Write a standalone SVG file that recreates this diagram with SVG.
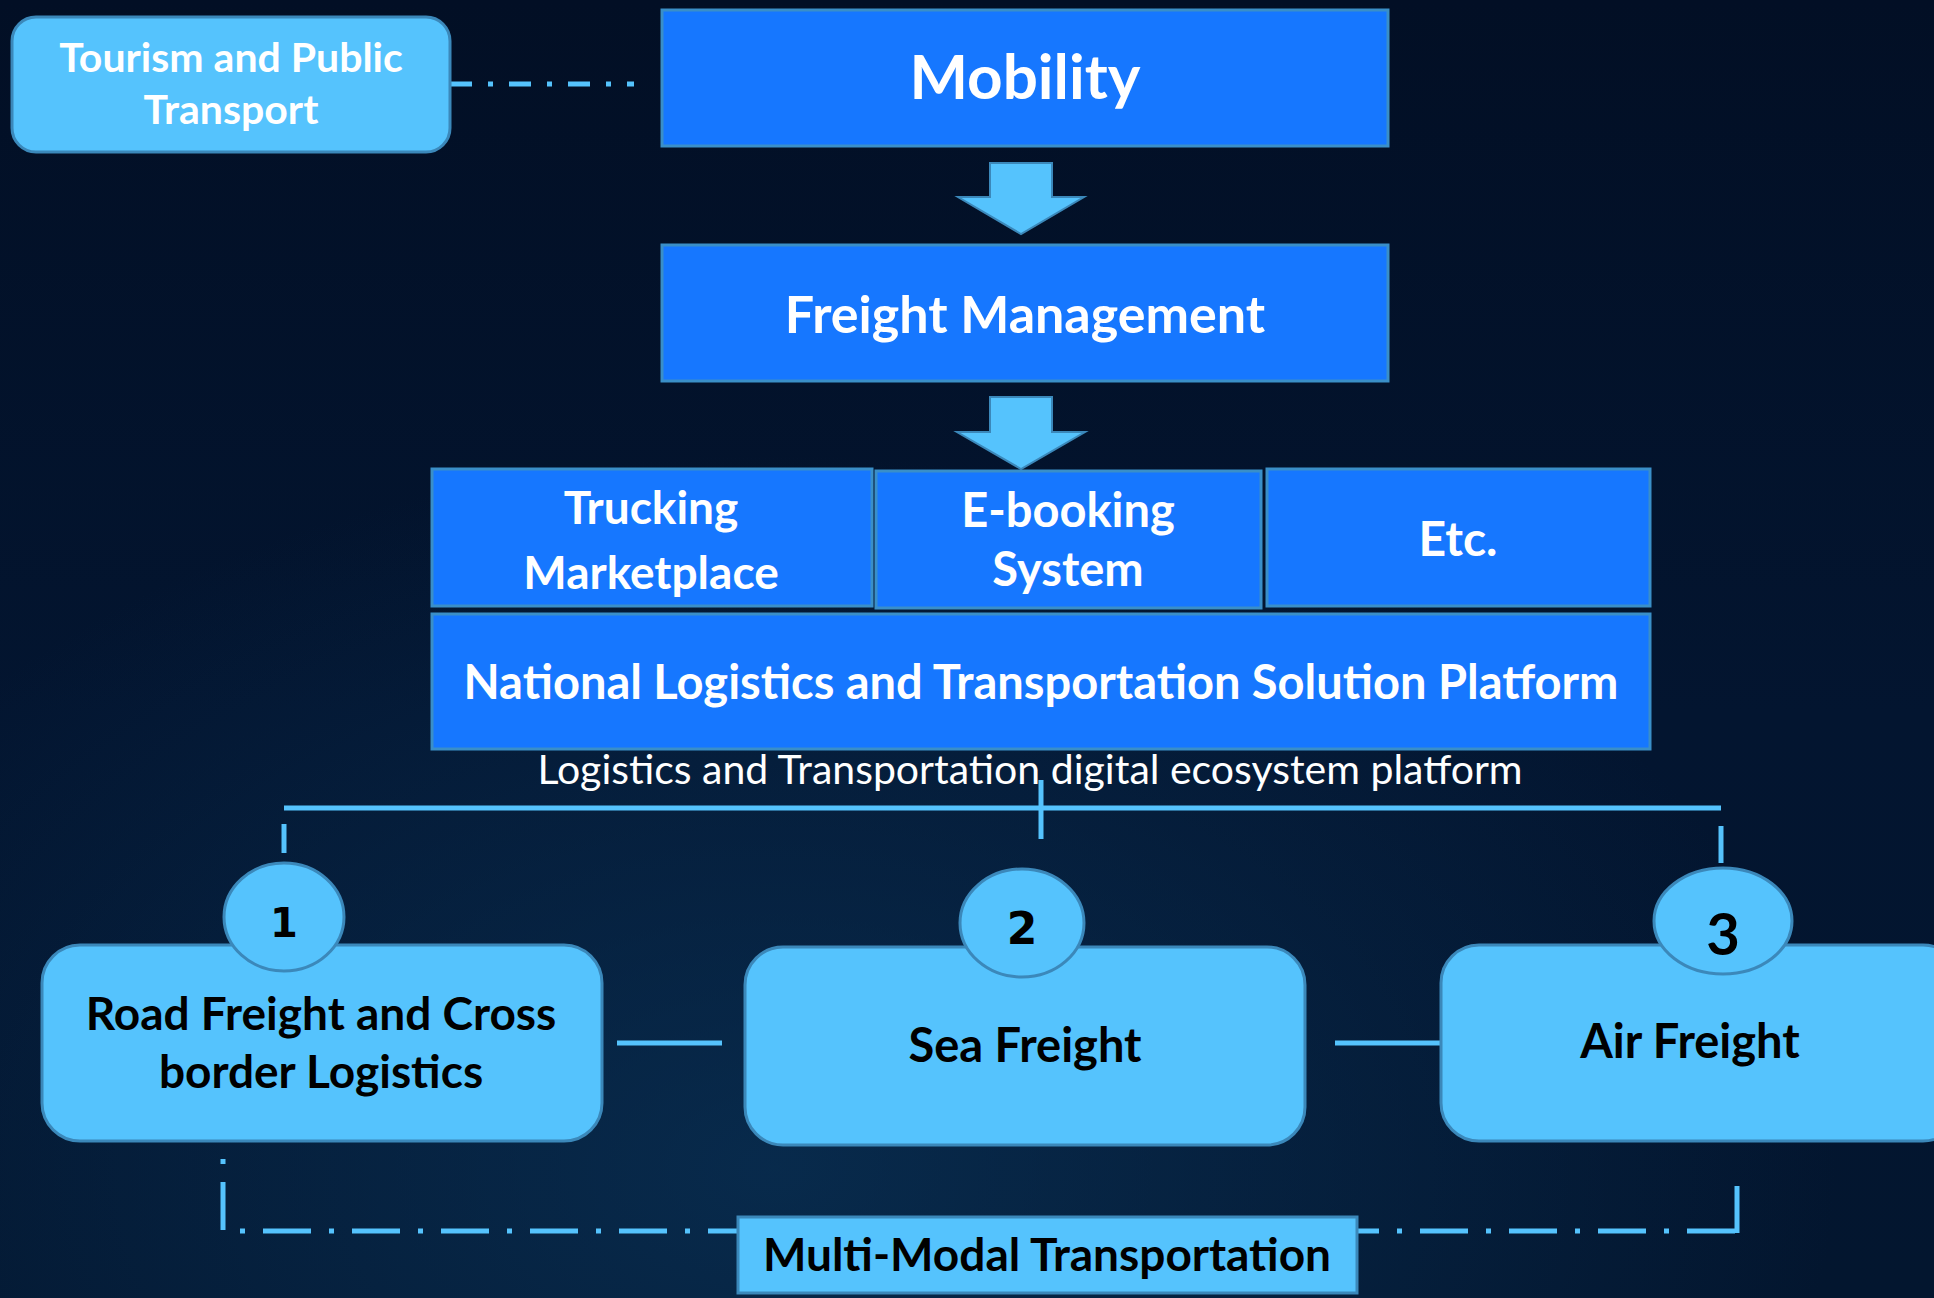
<svg xmlns="http://www.w3.org/2000/svg" width="1934" height="1298" viewBox="0 0 1934 1298">
<defs>
<linearGradient id="bg" x1="0" y1="0" x2="0" y2="1">
<stop offset="0" stop-color="#020f25"/>
<stop offset="0.55" stop-color="#031530"/>
<stop offset="1" stop-color="#03162f"/>
</linearGradient>
<radialGradient id="glow" cx="0.4" cy="0.9" r="0.55">
<stop offset="0" stop-color="#0a3358" stop-opacity="0.7"/>
<stop offset="1" stop-color="#0a3358" stop-opacity="0"/>
</radialGradient>
<style>
.dark{fill:#1677ff;stroke:#3a8fc8;stroke-width:3}
.light{fill:#55c3fd;stroke:#3b88ba;stroke-width:3}
.wt{font-family:Lato,"Liberation Sans",sans-serif;font-weight:bold;fill:#ffffff;text-anchor:middle}
.bt{font-family:Lato,"Liberation Sans",sans-serif;font-weight:bold;fill:#000000;text-anchor:middle}
.con{stroke:#55c3fd;stroke-width:5;fill:none}
.dd1{stroke-dasharray:22 16 5 16}
.dd2{stroke-dasharray:48 18 5 18;stroke-dashoffset:66}
</style>
</defs>
<rect width="1934" height="1298" fill="url(#bg)"/>
<rect width="1934" height="1298" fill="url(#glow)"/>

<g id="connectors">
<line class="con dd1" x1="450" y1="84" x2="634" y2="84"/>
<path id="arrow1" d="M990,163 H1052 V197 H1084 L1021,234 L958,197 H990 Z" fill="#55c3fd" stroke="#3b88ba" stroke-width="2"/>
<path id="arrow2" d="M990,397 H1052 V432 H1085 L1021,469 L957,432 H990 Z" fill="#55c3fd" stroke="#3b88ba" stroke-width="2"/>
<line class="con" x1="1041" y1="780" x2="1041" y2="839"/>
<line class="con" x1="284" y1="808" x2="1721" y2="808"/>
<line class="con" x1="284" y1="824" x2="284" y2="853"/>
<line class="con" x1="1721" y1="826" x2="1721" y2="863"/>
<line class="con" x1="617" y1="1043" x2="722" y2="1043"/>
<line class="con" x1="1335" y1="1043" x2="1441" y2="1043"/>
<path class="con dd2" d="M223,1159 V1231 H1737"/>
<line class="con" x1="1737" y1="1186" x2="1737" y2="1233"/>
</g>

<g id="tourism">
<rect class="light" x="12" y="17" width="438" height="135" rx="24"/>
<text class="wt" x="231" y="72" font-size="41">Tourism and Public</text>
<text class="wt" x="231" y="124" font-size="41">Transport</text>
</g>

<g id="mobility">
<rect class="dark" x="662" y="10" width="726" height="136"/>
<text class="wt" x="1025" y="99" font-size="62">Mobility</text>
</g>

<g id="freight-management">
<rect class="dark" x="662" y="245" width="726" height="136"/>
<text class="wt" x="1025" y="333" font-size="52">Freight Management</text>
</g>

<g id="trucking">
<rect class="dark" x="432" y="469" width="440" height="137"/>
<text class="wt" x="651" y="524" font-size="46">Trucking</text>
<text class="wt" x="651" y="589" font-size="46">Marketplace</text>
</g>

<g id="ebooking">
<rect class="dark" x="876" y="471" width="385" height="137"/>
<text class="wt" x="1068" y="527" font-size="47">E-booking</text>
<text class="wt" x="1068" y="586" font-size="47">System</text>
</g>

<g id="etc">
<rect class="dark" x="1267" y="469" width="383" height="137"/>
<text class="wt" x="1458" y="556" font-size="48">Etc.</text>
</g>

<g id="national">
<rect class="dark" x="432" y="614" width="1218" height="135"/>
<text class="wt" x="1041" y="699" font-size="47">National Logistics and Transportation Solution Platform</text>
</g>

<g id="ecosystem-label">
<text x="1030" y="784" font-family="Lato,'Liberation Sans',sans-serif" font-size="41" fill="#ffffff" text-anchor="middle">Logistics and Transportation digital ecosystem platform</text>
</g>

<g id="road">
<rect class="light" x="42" y="945" width="560" height="196" rx="38"/>
<ellipse class="light" cx="284" cy="917" rx="60" ry="54"/>
<text x="284" y="937" font-family="'DejaVu Sans',sans-serif" font-weight="bold" font-size="40" fill="#000" text-anchor="middle">1</text>
<text class="bt" x="321" y="1030" font-size="46">Road Freight and Cross</text>
<text class="bt" x="321" y="1088" font-size="46">border Logistics</text>
</g>

<g id="sea">
<rect class="light" x="745" y="947" width="560" height="198" rx="38"/>
<ellipse class="light" cx="1022" cy="923" rx="62" ry="54"/>
<text x="1022" y="944" font-family="'DejaVu Sans',sans-serif" font-weight="bold" font-size="44" fill="#000" text-anchor="middle">2</text>
<text class="bt" x="1025" y="1062" font-size="47">Sea Freight</text>
</g>

<g id="air">
<rect class="light" x="1441" y="945" width="520" height="196" rx="38"/>
<ellipse class="light" cx="1723" cy="921" rx="69" ry="53"/>
<text class="bt" x="1723" y="955" font-size="58">3</text>
<text class="bt" x="1690" y="1058" font-size="47">Air Freight</text>
</g>

<g id="multimodal">
<rect class="light" x="738" y="1217" width="619" height="76"/>
<text class="bt" x="1047" y="1271" font-size="46">Multi-Modal Transportation</text>
</g>
</svg>
